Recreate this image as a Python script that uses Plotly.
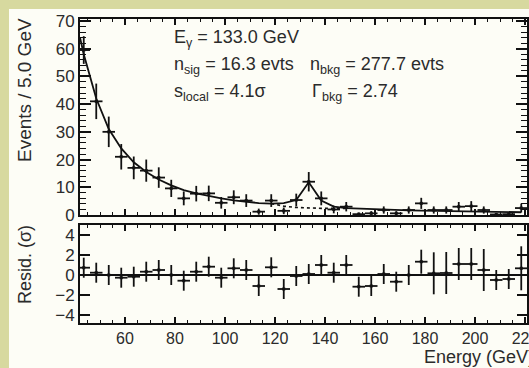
import plotly.graph_objects as go

# ---------------- data ----------------
energy = [43.5, 48.5, 53.5, 58.5, 63.5, 68.5, 73.5, 78.5, 83.5, 88.5,
          93.5, 98.5, 103.5, 108.5, 113.5, 118.5, 123.5, 128.5, 133.5, 138.5,
          143.5, 148.5, 153.5, 158.5, 163.5, 168.5, 173.5, 178.5, 183.5, 188.5,
          193.5, 198.5, 203.5, 208.5, 213.5, 218.5]
bin_half_width = [2.5] * len(energy)

counts = [59.5, 41.0, 30.0, 21.0, 17.0, 16.0, 13.5, 9.6, 6.0, 7.7,
          7.8, 4.4, 6.4, 5.2, 1.2, 5.2, 1.5, 5.4, 12.0, 6.0,
          2.0, 3.0, 0.3, 0.6, 1.8, 0.6, 1.8, 4.2, 1.8, 1.8,
          3.0, 3.2, 1.8, 0.2, 0.3, 2.5]
count_err = [5.0, 6.4, 5.5, 4.6, 4.1, 4.0, 3.7, 3.1, 2.5, 2.8,
             2.8, 2.1, 2.5, 2.3, 1.1, 2.3, 1.2, 2.3, 3.5, 2.5,
             1.4, 1.7, 0.6, 0.8, 1.3, 0.8, 1.3, 2.0, 1.3, 1.3,
             1.7, 1.8, 1.3, 0.4, 0.5, 1.6]

model_energy = [42.0] + energy
model_counts = [64.0, 58.0, 42.0, 31.0, 24.0, 19.0, 15.5, 12.8, 10.7, 9.0, 7.8,
                6.8, 6.0, 5.3, 4.8, 4.3, 4.1, 4.3, 5.4, 11.8, 5.2,
                3.0, 2.5, 2.3, 2.1, 1.95, 1.8, 1.7, 1.6, 1.5, 1.4,
                1.3, 1.2, 1.15, 1.1, 1.05, 1.0]

bkg_energy = [118.5, 123.5, 128.5, 133.5, 138.5, 143.5, 148.5]
bkg_counts = [4.1, 3.2, 2.7, 2.5, 2.4, 2.4, 2.4]

resid = [0.73, 0.23, 0.0, -0.27, -0.17, 0.33, 0.5, 0.0, -0.57, 0.33,
         0.83, -0.27, 0.67, 0.5, -1.1, 0.77, -1.4, -0.1, 0.1, 1.0,
         0.23, 1.0, -1.17, -1.1, 0.1, -0.67, 0.0, 1.33, 0.17, 0.2,
         1.1, 1.1, 0.5, -0.5, -0.4, 0.67]
resid_err = [1.0, 1.0, 1.0, 1.0, 1.0, 1.0, 1.0, 1.0, 1.0, 1.0,
             1.0, 1.0, 1.0, 1.0, 1.0, 1.0, 1.0, 1.0, 1.0, 1.0,
             1.0, 1.0, 1.0, 1.0, 1.0, 1.0, 1.0, 1.2, 2.1, 2.1,
             1.6, 1.6, 2.1, 1.0, 1.0, 2.2]

x_tick_vals = [60, 80, 100, 120, 140, 160, 180, 200, 220]
y_tick_vals = [0, 10, 20, 30, 40, 50, 60, 70]
r_tick_vals = [-4, -2, 0, 2, 4]

# ---------------- layout geometry ----------------
W, H = 529, 368
ML, MR, MT, MB = 80, 2, 19, 45
PW, PH = W - ML - MR, H - MT - MB


def px(xp):
    return (xp - ML) / PW


def py(yp):
    return (H - MB - yp) / PH


FONT = "Liberation Sans, Arial, Helvetica, sans-serif"
TXT = "#2b2b2b"
BLK = "#111111"

fig = go.Figure()

# background-only (dotted)
fig.add_trace(go.Scatter(x=bkg_energy, y=bkg_counts, mode="lines",
                         line=dict(color=BLK, width=1.6, dash="dot"),
                         xaxis="x", yaxis="y", hoverinfo="skip"))
# full model (solid)
fig.add_trace(go.Scatter(x=model_energy, y=model_counts, mode="lines",
                         line=dict(color=BLK, width=1.8),
                         xaxis="x", yaxis="y", hoverinfo="skip"))
# data
fig.add_trace(go.Scatter(x=energy, y=counts, mode="markers",
                         marker=dict(symbol="square", size=3, color=BLK),
                         error_y=dict(type="data", array=count_err, color=BLK, thickness=1.8, width=0),
                         error_x=dict(type="data", array=bin_half_width, color=BLK, thickness=1.8, width=0),
                         xaxis="x", yaxis="y"))
# residuals
fig.add_trace(go.Scatter(x=energy, y=resid, mode="markers",
                         marker=dict(symbol="square", size=3, color=BLK),
                         error_y=dict(type="data", array=resid_err, color=BLK, thickness=1.8, width=0),
                         error_x=dict(type="data", array=bin_half_width, color=BLK, thickness=1.8, width=0),
                         xaxis="x2", yaxis="y2"))

xrange = [42.0, 220.8]
common_x = dict(range=xrange, showline=True, linecolor=BLK, linewidth=2, mirror="allticks",
                ticks="inside", ticklen=6, tickwidth=1.5, tickcolor=BLK, automargin=False,
                tickvals=x_tick_vals, showgrid=False, zeroline=False,
                minor=dict(ticks="inside", ticklen=3, tickwidth=1.2, tickcolor=BLK, dtick=5, tick0=0, showgrid=False))

fig.update_layout(
    width=W, height=H,
    margin=dict(l=ML, r=MR, t=MT, b=MB, pad=0, autoexpand=False),
    paper_bgcolor="#fdfdf6", plot_bgcolor="#fdfdf6",
    showlegend=False,
    font=dict(family=FONT, color=TXT),
    xaxis=dict(domain=[0, 1], anchor="y", showticklabels=False, **common_x),
    xaxis2=dict(domain=[0, 1], anchor="y2", matches="x", showticklabels=True,
                ticklabeloverflow="allow",
                tickfont=dict(size=16, color=TXT, family=FONT), **common_x),
    yaxis=dict(domain=[py(215), 1], anchor="x", range=[0, 70.7], automargin=False,
               showline=True, linecolor=BLK, linewidth=2, mirror="allticks",
               ticks="inside", ticklen=11, tickwidth=1.5, tickcolor=BLK,
               tickvals=y_tick_vals, showgrid=False, zeroline=False,
               tickfont=dict(size=17, color=TXT, family=FONT),
               minor=dict(ticks="inside", ticklen=6, tickwidth=1.2, tickcolor=BLK, dtick=2, tick0=0, showgrid=False)),
    yaxis2=dict(domain=[0, py(225)], anchor="x2", range=[-4.8, 5.0], automargin=False,
                showline=True, linecolor=BLK, linewidth=2, mirror="allticks",
                ticks="inside", ticklen=10, tickwidth=1.5, tickcolor=BLK,
                tickvals=r_tick_vals, showgrid=False,
                zeroline=True, zerolinecolor=BLK, zerolinewidth=2,
                tickfont=dict(size=17, color=TXT, family=FONT)),
)

# olive page border strips (top and left)
OLIVE = "#d7d99f"
fig.add_shape(type="rect", xref="paper", yref="paper", layer="below",
              x0=px(0), x1=px(W), y0=py(9), y1=py(0), fillcolor=OLIVE, line=dict(width=0))
fig.add_shape(type="rect", xref="paper", yref="paper", layer="below",
              x0=px(0), x1=px(9), y0=py(H), y1=py(0), fillcolor=OLIVE, line=dict(width=0))

ann_font = dict(family=FONT, size=18, color=TXT)
texts = [
    ("E<sub>γ</sub> = 133.0 GeV", 172, 38),
    ("n<sub>sig</sub> = 16.3 evts", 172, 66),
    ("n<sub>bkg</sub> = 277.7 evts", 308, 66),
    ("s<sub>local</sub> = 4.1σ", 172, 92),
    ("Γ<sub>bkg</sub> = 2.74", 310, 92),
]
for t, xx, yy in texts:
    fig.add_annotation(text=t, xref="paper", yref="paper", x=px(xx), y=py(yy),
                       xanchor="left", yanchor="middle", showarrow=False, font=ann_font)

fig.add_annotation(text="Events / 5.0 GeV", xref="paper", yref="paper", x=px(25), y=py(16),
                   xanchor="center", yanchor="top", textangle=-90, showarrow=False,
                   font=dict(family=FONT, size=19, color=TXT))
fig.add_annotation(text="Resid. (σ)", xref="paper", yref="paper", x=px(25), y=py(265),
                   xanchor="center", yanchor="middle", textangle=-90, showarrow=False, font=ann_font)
fig.add_annotation(text="Energy (GeV)", xref="paper", yref="paper", x=px(422), y=py(357),
                   xanchor="left", yanchor="middle", showarrow=False, font=ann_font)

fig.write_html("out.html")
